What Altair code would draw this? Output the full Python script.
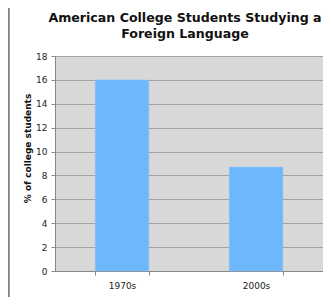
import altair as alt
import pandas as pd

categories = ["1970s", "2000s"]
values = [16.0, 8.7]

df = pd.DataFrame({"period": categories, "pct": values})

W, H = 268, 215

bars = alt.Chart(df).mark_bar(color="#6db8fa", stroke="#8ec7f7", strokeWidth=0.5).encode(
    x=alt.X("period:N", sort=categories, title=None,
            scale=alt.Scale(paddingInner=0.6, paddingOuter=0.3),
            axis=alt.Axis(labelAngle=0, labelFont="DejaVu Sans", labelFontSize=9,
                          labelColor="#222", tickBand="extent", tickSize=4,
                          tickColor="#888", domainColor="#888", labelPadding=6)),
    y=alt.Y("pct:Q", title="% of college students",
            scale=alt.Scale(domain=[0, 18]),
            axis=alt.Axis(values=list(range(0, 19, 2)), labelFont="DejaVu Sans",
                          labelFontSize=9, labelColor="#222", tickSize=4,
                          tickColor="#888", domainColor="#888", gridColor="#a3a3a3",
                          titleFont="DejaVu Sans", titleFontSize=9, titleFontWeight="bold",
                          titleColor="#111", titlePadding=3, labelPadding=4,
                          titleY=92)),
)

border = alt.Chart(df).mark_rule(color="#808080", strokeWidth=2).encode(
    x=alt.value(-46.5), y=alt.value(-48), y2=alt.value(H + 40)
)

chart = alt.layer(bars, border).properties(
    width=W, height=H,
    title=alt.TitleParams(["American College Students Studying a", "Foreign Language"],
                          font="DejaVu Sans", fontSize=12.6, fontWeight="bold",
                          color="#111", anchor="middle", offset=-34, dx=-4, lineHeight=16.5),
    autosize=alt.AutoSizeParams(type="none"),
    padding={"left": 47, "top": 48, "right": 0, "bottom": 26},
).configure_view(fill="#d8d8d8", stroke="#999", strokeWidth=1).configure_axisX(grid=False)

chart.save("out.html", embed_options={"renderer": "svg", "actions": False})
